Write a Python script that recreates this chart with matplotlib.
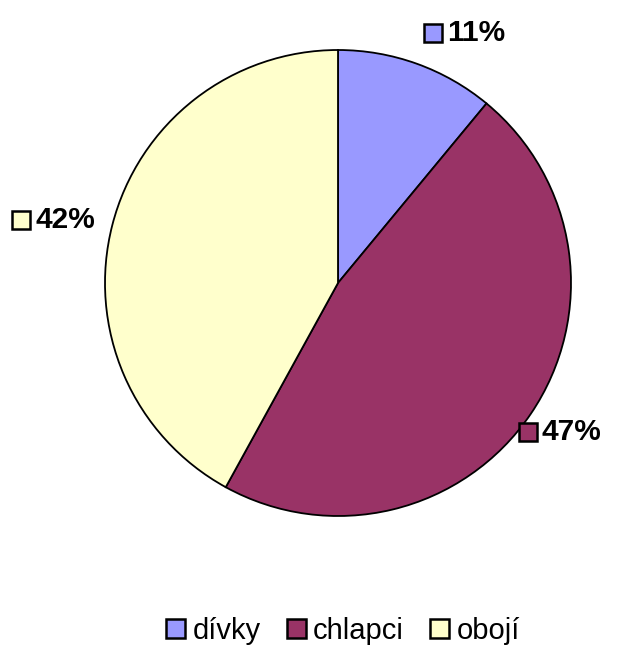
import matplotlib
matplotlib.use("Agg")
import matplotlib.pyplot as plt
from matplotlib.patches import Patch

# data
categories = ["dívky", "chlapci", "obojí"]
shares = [11, 47, 42]
colors = ["#9999FF", "#993366", "#FFFFCC"]

W, H = 635, 646
plt.rcParams["font.family"] = ["Liberation Sans", "DejaVu Sans"]

fig = plt.figure(figsize=(W / 100, H / 100), dpi=100)
ax = fig.add_axes([0, 0, 1, 1])
ax.axis("off")

cx, cy, r = 338, H - 283, 233
wedges, _ = ax.pie(shares, colors=colors, startangle=90, counterclock=False,
                   center=(cx, cy), radius=r,
                   wedgeprops=dict(edgecolor="black", linewidth=1.3))
ax.set_xlim(0, W)
ax.set_ylim(0, H)
ax.set_aspect("equal")

# label anchor (left edge of the colour square), pixel coords from the top
label_pos = [(424, 33), (519, 432), (12, 220)]
for (lx, ly), val, col in zip(label_pos, shares, colors):
    y = H - ly
    ax.plot(lx + 9, y, marker="s", markersize=12.5, markerfacecolor=col,
            markeredgecolor="black", markeredgewidth=1.8)
    ax.text(lx + 23, y, f"{val}%", fontsize=21.5, fontweight="bold",
            ha="left", va="center")

handles = [Patch(facecolor=c, edgecolor="black", linewidth=1.8) for c in colors]
fig.legend(handles, categories, loc="center", bbox_to_anchor=(343 / W, 1 - 631 / H),
           ncol=3, frameon=False, fontsize=21, handlelength=0.65, handleheight=0.65,
           handletextpad=0.25, columnspacing=0.9)

fig.savefig("out.png", dpi=100)
